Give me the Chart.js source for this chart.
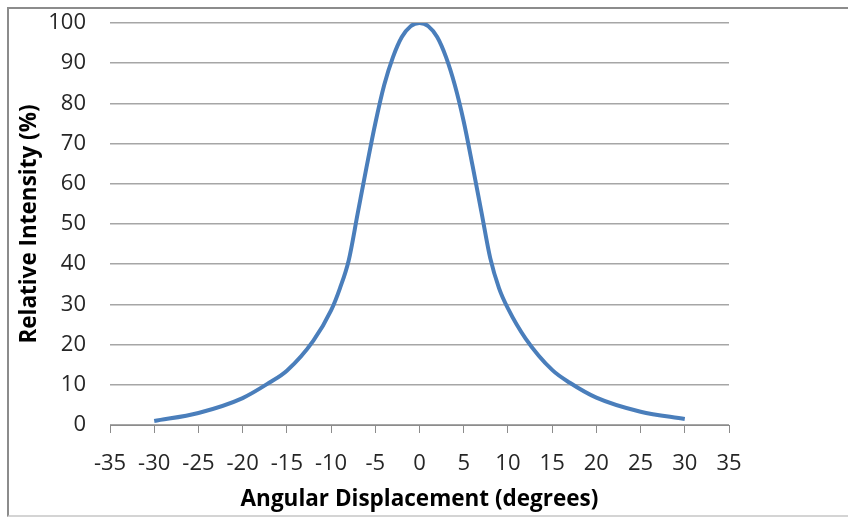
<!DOCTYPE html>
<html>
<head>
<meta charset="utf-8">
<script src="https://cdn.jsdelivr.net/npm/chart.js@4/dist/chart.umd.min.js"></script>
<style>
  html, body { margin: 0; padding: 0; background: #fff; }
  #wrap { position: relative; width: 848px; height: 517px; }
  #frame {
    position: absolute; left: 7px; top: 7px; width: 845px; height: 506px;
    border-top: 2px solid #8c8c8c; border-left: 2px solid #8c8c8c;
    border-bottom: 2px solid #d4d4d4; pointer-events: none;
  }
  canvas { position: absolute; left: 0; top: 0; }
</style>
</head>
<body>
<div id="wrap">
  <canvas id="chart" width="848" height="517"></canvas>
  <div id="frame"></div>
</div>
<script>
"use strict";

// angular displacement (deg) vs relative intensity (%)
const degrees = [-30, -25, -20, -17, -15, -12, -10, -9, -8, -7, -6, -5, -4, -3, -2, -1, 0,
                 1, 2, 3, 4, 5, 6, 7, 8, 9, 10, 12, 15, 17, 20, 25, 30];
const intensity = [1.0, 3.0, 6.7, 10.5, 13.5, 21, 28.5, 34, 41, 52.5, 64, 75, 84.5, 91.5, 96.5, 99.2, 100,
                   99.2, 96.5, 91.5, 84.5, 75.5, 64.5, 53, 41.5, 34, 29, 21.5, 13.7, 10.5, 6.8, 3.3, 1.5];
const xTicks = { min: -35, max: 35, step: 5 };
const yTicks = { min: 0, max: 100, step: 10 };

const points = degrees.map((d, i) => ({ x: d, y: intensity[i] }));

const tickFont = { family: "'Open Sans', sans-serif", size: 22 };
const titleFont = { family: "'Open Sans', sans-serif", size: 22.5, weight: "bold" };

new Chart(document.getElementById("chart"), {
  type: "scatter",
  data: {
    datasets: [{
      data: points,
      showLine: true,
      borderColor: "#4a7ebb",
      borderWidth: 4,
      pointRadius: 0,
      tension: 0.4,
      cubicInterpolationMode: "monotone",
    }],
  },
  options: {
    responsive: false,
    animation: false,
    layout: { padding: { left: 16, right: 119, top: 23, bottom: 4 } },
    plugins: { legend: { display: false }, tooltip: { enabled: false } },
    scales: {
      x: {
        type: "linear",
        min: xTicks.min, max: xTicks.max,
        ticks: { stepSize: xTicks.step, color: "#262626", font: tickFont, padding: 18, maxRotation: 0 },
        grid: { drawOnChartArea: false, drawTicks: true, tickLength: 8, color: "#8c8c8c" },
        border: { display: true, color: "#8c8c8c", width: 1 },
        title: { display: true, text: "Angular Displacement (degrees)", color: "#000", font: titleFont, padding: { top: 0, bottom: 0 } },
        afterFit: (s) => { s.height = 88; s.paddingLeft = 0; s.paddingRight = 0; },
      },
      y: {
        min: yTicks.min, max: yTicks.max,
        ticks: { stepSize: yTicks.step, color: "#262626", font: tickFont, padding: 24 },
        grid: { drawTicks: false, color: "#a6a6a6", lineWidth: 1.5 },
        border: { display: false },
        title: { display: true, text: "Relative Intensity (%)", color: "#000", font: titleFont, padding: { top: 0, bottom: 2 } },
        afterFit: (s) => { s.width = 94; s.paddingTop = 0; s.paddingBottom = 0; },
      },
    },
  },
});
</script>
</body>
</html>
